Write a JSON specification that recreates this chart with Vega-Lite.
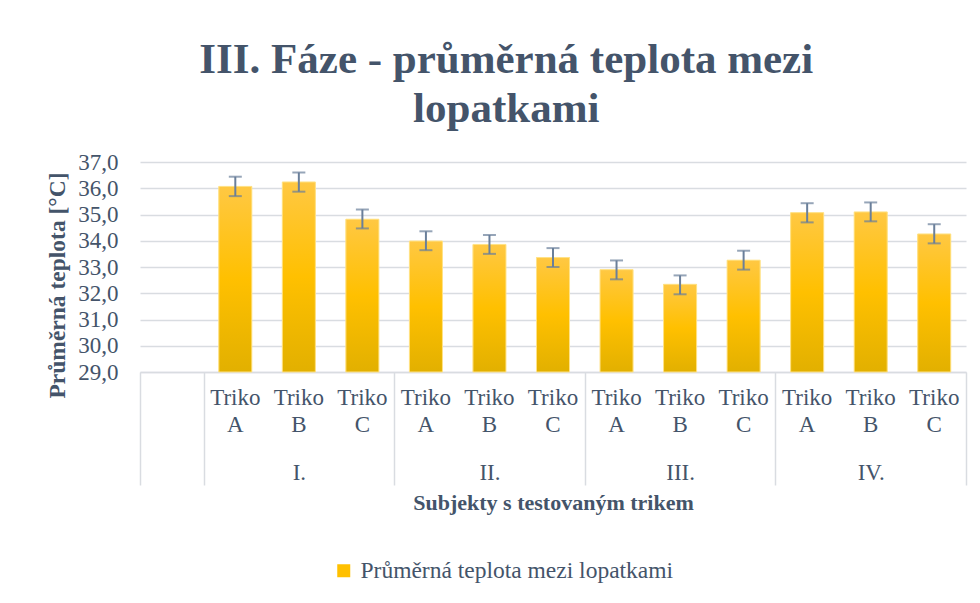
{
  "$schema": "https://vega.github.io/schema/vega-lite/v6.json",
  "autosize": "none",
  "width": 826,
  "height": 210,
  "padding": {"left": 140, "top": 162, "right": 14, "bottom": 231},
  "background": "white",
  "title": {
    "text": ["III. Fáze - průměrná teplota mezi", "lopatkami"],
    "font": "Liberation Serif",
    "fontSize": 43,
    "fontWeight": "bold",
    "color": "#44546A",
    "lineHeight": 49,
    "anchor": "middle",
    "frame": "bounds",
    "offset": 20
  },
  "config": {
    "view": {"stroke": null},
    "axis": {"labelFont": "Liberation Serif", "titleFont": "Liberation Serif", "labelColor": "#44546A", "titleColor": "#44546A"},
    "legend": {"labelFont": "Liberation Serif"}
  },
  "data": {
    "values": [
      {"slot": "I.-A", "mean": 36.07, "lo": 35.70, "hi": 36.44, "series": "Průměrná teplota mezi lopatkami"},
      {"slot": "I.-B", "mean": 36.24, "lo": 35.87, "hi": 36.60, "series": "Průměrná teplota mezi lopatkami"},
      {"slot": "I.-C", "mean": 34.82, "lo": 34.47, "hi": 35.19, "series": "Průměrná teplota mezi lopatkami"},
      {"slot": "II.-A", "mean": 33.99, "lo": 33.64, "hi": 34.36, "series": "Průměrná teplota mezi lopatkami"},
      {"slot": "II.-B", "mean": 33.86, "lo": 33.50, "hi": 34.22, "series": "Průměrná teplota mezi lopatkami"},
      {"slot": "II.-C", "mean": 33.36, "lo": 33.00, "hi": 33.72, "series": "Průměrná teplota mezi lopatkami"},
      {"slot": "III.-A", "mean": 32.90, "lo": 32.53, "hi": 33.25, "series": "Průměrná teplota mezi lopatkami"},
      {"slot": "III.-B", "mean": 32.34, "lo": 31.96, "hi": 32.68, "series": "Průměrná teplota mezi lopatkami"},
      {"slot": "III.-C", "mean": 33.26, "lo": 32.90, "hi": 33.62, "series": "Průměrná teplota mezi lopatkami"},
      {"slot": "IV.-A", "mean": 35.07, "lo": 34.70, "hi": 35.43, "series": "Průměrná teplota mezi lopatkami"},
      {"slot": "IV.-B", "mean": 35.10, "lo": 34.74, "hi": 35.46, "series": "Průměrná teplota mezi lopatkami"},
      {"slot": "IV.-C", "mean": 34.26, "lo": 33.90, "hi": 34.63, "series": "Průměrná teplota mezi lopatkami"}
    ]
  },
  "resolve": {"axis": {"x": "independent"}},
  "layer": [
    {
      "mark": {"type": "bar", "width": {"band": 0.52}},
      "encoding": {
        "x": {
          "field": "slot", "type": "nominal", "sort": null,
          "scale": {"domain": ["0", "I.-A", "I.-B", "I.-C", "II.-A", "II.-B", "II.-C", "III.-A", "III.-B", "III.-C", "IV.-A", "IV.-B", "IV.-C"], "paddingInner": 0, "paddingOuter": 0},
          "axis": {
            "orient": "bottom",
            "title": "Subjekty s testovaným trikem",
            "titleFontSize": 22,
            "titleFontWeight": "bold",
            "titlePadding": 56,
            "labelExpr": "datum.value == '0' ? '' : ['Triko', substring(datum.value + '', length(datum.value + '') - 1)]",
            "labelAngle": 0,
            "labelFontSize": 23,
            "labelLineHeight": 27.5,
            "labelPadding": 14,
            "labelOverlap": false,
            "ticks": false,
            "domain": true,
            "domainColor": "#D9DCE1",
            "domainWidth": 1.5,
            "grid": false
          }
        },
        "y": {
          "field": "mean", "type": "quantitative",
          "scale": {"domain": [29, 37], "nice": false, "zero": false},
          "axis": {"title": "Průměrná teplota [°C]", "titleFontSize": 23.5, "titleFontWeight": "bold", "titlePadding": 8, "titleY": 123, "values": [29, 30, 31, 32, 33, 34, 35, 36, 37], "labelExpr": "replace(format(datum.value, '.1f'), '.', ',')", "labelFontSize": 23, "labelPadding": 22, "labelOverlap": false, "ticks": false, "domain": false, "grid": true, "gridColor": "#D9DCE1", "gridWidth": 1.5}
        },
        "y2": {"datum": 29},
        "color": {
          "field": "series", "type": "nominal",
          "scale": {"range": ["#FFC000"]},
          "legend": {
            "orient": "none",
            "legendX": 192,
            "legendY": 397,
            "direction": "horizontal",
            "title": null,
            "labelFontSize": 23.5,
            "labelColor": "#44546A",
            "labelLimit": 600,
            "labelOffset": 5,
            "symbolType": "square",
            "symbolSize": 169,
            "symbolStrokeWidth": 0
          }
        }
      }
    },
    {
      "mark": {"type": "bar", "width": {"band": 0.52}, "stroke": "#FFE38A", "strokeWidth": 1,
        "fill": {"gradient": "linear", "x1": 0, "y1": 0, "x2": 0, "y2": 1, "stops": [{"offset": 0, "color": "#FFC843"}, {"offset": 0.5, "color": "#FFC000"}, {"offset": 1, "color": "#E2B000"}]}},
      "encoding": {
        "x": {"field": "slot", "type": "nominal", "sort": null, "axis": null},
        "y": {"field": "mean", "type": "quantitative",
          "axis": {"title": "Průměrná teplota [°C]", "titleFontSize": 23.5, "titleFontWeight": "bold", "titlePadding": 8, "titleY": 123, "values": [29, 30, 31, 32, 33, 34, 35, 36, 37], "labelExpr": "replace(format(datum.value, '.1f'), '.', ',')", "labelFontSize": 23, "labelPadding": 22, "labelOverlap": false, "ticks": false, "domain": false, "grid": true, "gridColor": "#D9DCE1", "gridWidth": 1.5}},
        "y2": {"datum": 29}
      }
    },
    {
      "mark": {"type": "rule", "color": "#6A7F9A", "strokeWidth": 2},
      "encoding": {
        "x": {
          "field": "slot", "type": "nominal", "sort": null,
          "axis": {
            "orient": "bottom",
            "title": null,
            "labelExpr": "indexof(datum.value + '', '-B') > 0 ? replace(datum.value + '', '-B', '') : ''",
            "labelAngle": 0,
            "labelFontSize": 23,
            "labelPadding": -24,
            "labelOverlap": false,
            "labelColor": "#44546A",
            "domain": false,
            "grid": false,
            "ticks": true,
            "tickBand": "extent",
            "tickSize": 113,
            "tickColor": "#D9DCE1",
            "tickWidth": 1.5,
            "tickOpacity": {"condition": {"test": "indexof(datum.value + '', '-C') > 0 || indexof(datum.value + '', '-') < 0", "value": 1}, "value": 0}
          }
        },
        "y": {"field": "lo", "type": "quantitative",
          "axis": {"title": "Průměrná teplota [°C]", "titleFontSize": 23.5, "titleFontWeight": "bold", "titlePadding": 8, "titleY": 123, "values": [29, 30, 31, 32, 33, 34, 35, 36, 37], "labelExpr": "replace(format(datum.value, '.1f'), '.', ',')", "labelFontSize": 23, "labelPadding": 22, "labelOverlap": false, "ticks": false, "domain": false, "grid": true, "gridColor": "#D9DCE1", "gridWidth": 1.5}},
        "y2": {"field": "hi"}
      }
    },
    {
      "mark": {"type": "tick", "color": "#6A7F9A", "thickness": 2, "size": 13},
      "encoding": {
        "x": {"field": "slot", "type": "nominal", "sort": null, "axis": null},
        "y": {"field": "lo", "type": "quantitative",
          "axis": {"title": "Průměrná teplota [°C]", "titleFontSize": 23.5, "titleFontWeight": "bold", "titlePadding": 8, "titleY": 123, "values": [29, 30, 31, 32, 33, 34, 35, 36, 37], "labelExpr": "replace(format(datum.value, '.1f'), '.', ',')", "labelFontSize": 23, "labelPadding": 22, "labelOverlap": false, "ticks": false, "domain": false, "grid": true, "gridColor": "#D9DCE1", "gridWidth": 1.5}}
      }
    },
    {
      "mark": {"type": "tick", "color": "#6A7F9A", "thickness": 2, "size": 13},
      "encoding": {
        "x": {"field": "slot", "type": "nominal", "sort": null, "axis": null},
        "y": {"field": "hi", "type": "quantitative",
          "axis": {"title": "Průměrná teplota [°C]", "titleFontSize": 23.5, "titleFontWeight": "bold", "titlePadding": 8, "titleY": 123, "values": [29, 30, 31, 32, 33, 34, 35, 36, 37], "labelExpr": "replace(format(datum.value, '.1f'), '.', ',')", "labelFontSize": 23, "labelPadding": 22, "labelOverlap": false, "ticks": false, "domain": false, "grid": true, "gridColor": "#D9DCE1", "gridWidth": 1.5}}
      }
    }
  ]
}
